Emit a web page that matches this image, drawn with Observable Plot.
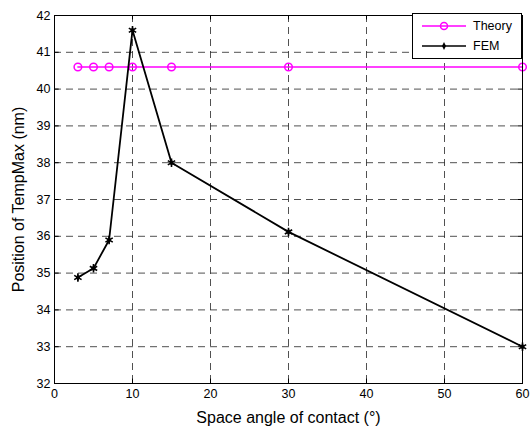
<!DOCTYPE html>
<html><head><meta charset="utf-8">
<script src="https://cdn.jsdelivr.net/npm/d3@7"></script>
<script src="https://cdn.jsdelivr.net/npm/@observablehq/plot@0.6"></script>
<style>
body{margin:0;background:#fff;font-family:"Liberation Sans",Arial,sans-serif;}
#wrap{position:relative;width:530px;height:430px;}
#legend{position:absolute;left:412px;top:13px;width:108px;height:44px;border:1px solid #000;background:#fff;font-size:12.5px;}
#legend .row{position:absolute;left:0;height:16px;display:flex;align-items:center;}
</style></head>
<body><div id="wrap"><div id="chart"></div>
<div id="legend">
 <div class="row" style="top:4px"><svg width="60" height="16"><line x1="9" x2="53" y1="8" y2="8" stroke="#ff00ff" stroke-width="1.5"/><circle cx="31" cy="8" r="3.5" fill="none" stroke="#ff00ff" stroke-width="1.5"/></svg><span>Theory</span></div>
 <div class="row" style="top:24px"><svg width="60" height="16"><line x1="9" x2="53" y1="8" y2="8" stroke="#000" stroke-width="1.5"/><path d="M31,4L33,8L31,12L29,8Z" fill="#000"/></svg><span>FEM</span></div>
</div></div>
<script>
const angles = [3, 5, 7, 10, 15, 30, 60];
const theory = [40.6, 40.6, 40.6, 40.6, 40.6, 40.6, 40.6];
const fem = [34.88, 35.13, 35.9, 41.6, 38.0, 36.12, 33.0];
const xTicks = [0, 10, 20, 30, 40, 50, 60];
const yTicks = [32, 33, 34, 35, 36, 37, 38, 39, 40, 41, 42];

const theoryData = angles.map((a, i) => ({x: a, y: theory[i]}));
const femData = angles.map((a, i) => ({x: a, y: fem[i]}));
const innerX = xTicks.slice(1, -1);
const innerY = yTicks.slice(1, -1);

const chart = Plot.plot({
  width: 530, height: 430,
  marginLeft: 54, marginRight: 8, marginTop: 15, marginBottom: 47,
  style: {fontFamily: "Liberation Sans, Arial, sans-serif", fontSize: "12px", color: "#000", background: "#fff"},
  x: {domain: [0, 60], ticks: xTicks, label: null, tickSize: 0, tickPadding: 6},
  y: {domain: [32, 42], ticks: yTicks, label: null, tickSize: 0, tickPadding: 4},
  marks: [
    Plot.ruleX(innerX, {stroke: "#333", strokeOpacity: 0.85, strokeDasharray: "7,5"}),
    Plot.ruleY(innerY, {stroke: "#333", strokeOpacity: 0.85, strokeDasharray: "7,5"}),
    Plot.ruleX(innerX, {y1: 32, y2: 32.12, stroke: "#000"}),
    Plot.ruleX(innerX, {y1: 41.88, y2: 42, stroke: "#000"}),
    Plot.ruleY(innerY, {x1: 0, x2: 0.6, stroke: "#000"}),
    Plot.ruleY(innerY, {x1: 59.4, x2: 60, stroke: "#000"}),
    Plot.axisX({ticks: xTicks, tickSize: 0, tickPadding: 6, fontSize: 12.5}),
    Plot.axisY({ticks: yTicks, tickSize: 0, tickPadding: 4, fontSize: 12.5}),
    Plot.axisX({label: "Space angle of contact (°)", labelAnchor: "center", labelArrow: "none", labelOffset: 39, ticks: [], fontSize: 16}),
    Plot.axisY({label: "Position of TempMax (nm)", labelAnchor: "center", labelArrow: "none", labelOffset: 42, ticks: [], fontSize: 16}),
    Plot.line(theoryData, {x: "x", y: "y", stroke: "#ff00ff", strokeWidth: 1.5}),
    Plot.dot(theoryData, {x: "x", y: "y", r: 3.8, stroke: "#ff00ff", strokeWidth: 1.5, fill: "none"}),
    Plot.line(femData, {x: "x", y: "y", stroke: "#000", strokeWidth: 1.8}),
    Plot.dot(femData, {x: "x", y: "y", symbol: "asterisk", r: 4, stroke: "#000", strokeWidth: 1.6}),
    Plot.dot(femData, {x: "x", y: "y", symbol: "diamond", r: 2.2, fill: "#000"}),
    Plot.frame({stroke: "#000", strokeWidth: 1})
  ]
});
document.getElementById("chart").appendChild(chart);
</script>
</body></html>
